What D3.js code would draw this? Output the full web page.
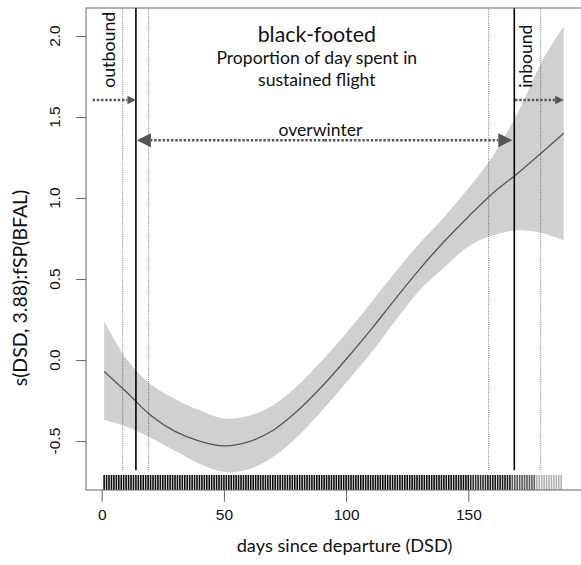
<!DOCTYPE html>
<html>
<head>
<meta charset="utf-8">
<script src="https://cdn.jsdelivr.net/npm/d3@7"></script>
<style>
  body { margin: 0; background: #fff; }
  svg { display: block; }
</style>
</head>
<body>
<svg id="chart" width="581" height="565"></svg>
<script>
// Smooth term s(DSD) for black-footed albatross, with its confidence band
const dsd   = [1, 10, 20, 30, 40, 50, 60, 70, 80, 90, 100, 110, 120, 130, 140, 150, 160, 170, 180, 189];
const fit   = [-0.07, -0.195, -0.34, -0.44, -0.50, -0.53, -0.505, -0.435, -0.315, -0.165, 0.005, 0.185, 0.375, 0.56, 0.73, 0.885, 1.03, 1.15, 1.28, 1.40];
const lower = [-0.37, -0.41, -0.48, -0.56, -0.64, -0.69, -0.675, -0.60, -0.475, -0.315, -0.14, 0.04, 0.24, 0.43, 0.57, 0.70, 0.77, 0.80, 0.785, 0.74];
const upper = [0.24, 0.01, -0.15, -0.24, -0.31, -0.36, -0.345, -0.28, -0.16, -0.005, 0.165, 0.35, 0.54, 0.72, 0.88, 1.06, 1.26, 1.52, 1.84, 2.06];

// Observation coverage for the rug: blocks of days and birds tracked per day
const rugBlockFirst = [1, 151, 158, 168, 178];
const rugBlockLast  = [150, 157, 167, 177, 188];
const rugBlockBirds = [9, 5, 7, 3, 1];

// Migration phase boundaries (mean and spread, days since departure)
const outboundEnd  = { lo: 8.6, mid: 14.0, hi: 19.2 };
const inboundStart = { lo: 158.3, mid: 168.8, hi: 179.6 };

const xTicks = [0, 50, 100, 150];
const yTicks = [-0.5, 0.0, 0.5, 1.0, 1.5, 2.0];

const svg = d3.select("#chart");
const plotL = 86, plotR = 582, plotT = 8, plotB = 490;

const x = d3.scaleLinear().domain([-6.42, 196.5]).range([plotL, plotR]);
const y = d3.scaleLinear().domain([-0.802, 2.173]).range([plotB, plotT]);

const rows = dsd.map((d, i) => ({ d, f: fit[i], lo: lower[i], hi: upper[i] }));
const smooth = d3.curveCatmullRom.alpha(0.5);

// Confidence band
svg.append("path")
  .datum(rows)
  .attr("fill", "#d0d0d0")
  .attr("d", d3.area().curve(smooth)
    .x(r => x(r.d)).y0(r => y(r.lo)).y1(r => y(r.hi)));

// Fitted smooth
svg.append("path")
  .datum(rows)
  .attr("fill", "none")
  .attr("stroke", "#555")
  .attr("stroke-width", 1.3)
  .attr("d", d3.line().curve(smooth).x(r => x(r.d)).y(r => y(r.f)));

// Phase boundary lines
const vBottom = -0.68;
[outboundEnd, inboundStart].forEach(p => {
  [p.lo, p.hi].forEach(v => {
    svg.append("line")
      .attr("x1", x(v)).attr("x2", x(v))
      .attr("y1", y(vBottom)).attr("y2", plotT)
      .attr("stroke", "#555").attr("stroke-width", 0.8)
      .attr("stroke-dasharray", "1,1.2");
  });
  svg.append("line")
    .attr("x1", x(p.mid)).attr("x2", x(p.mid))
    .attr("y1", y(vBottom)).attr("y2", plotT)
    .attr("stroke", "#000").attr("stroke-width", 1.6);
});

// Rug of observation days
const rug = [];
rugBlockFirst.forEach((first, i) => {
  for (let day = first; day <= rugBlockLast[i]; day++) rug.push({ day, n: rugBlockBirds[i] });
});
svg.append("g")
  .selectAll("line").data(rug).join("line")
  .attr("x1", r => x(r.day)).attr("x2", r => x(r.day))
  .attr("y1", plotB - 15).attr("y2", plotB)
  .attr("stroke", "#000").attr("stroke-width", 1.6)
  .attr("stroke-opacity", r => 1 - Math.pow(0.7, r.n));

// Dotted arrows marking the migration phases
const arrowColor = "#555";
function arrow(x0, x1, yv, headLen, headHalf) {
  const dir = Math.sign(x1 - x0);
  const px0 = x(x0), px1 = x(x1), py = y(yv);
  svg.append("line")
    .attr("x1", px0).attr("x2", px1 - dir * headLen)
    .attr("y1", py).attr("y2", py)
    .attr("stroke", arrowColor).attr("stroke-width", 2.6)
    .attr("stroke-dasharray", "2.4,1.8");
  svg.append("path")
    .attr("d", `M${px1},${py}L${px1 - dir * headLen},${py - headHalf}L${px1 - dir * headLen},${py + headHalf}Z`)
    .attr("fill", arrowColor);
}
function doubleArrow(x0, x1, yv, headLen, headHalf) {
  const mid = (x0 + x1) / 2;
  arrow(mid, x0, yv, headLen, headHalf);
  arrow(mid, x1, yv, headLen, headHalf);
}
arrow(-3.7, outboundEnd.mid, 1.605, 8.5, 4.2);
arrow(inboundStart.mid + 0.3, 189, 1.605, 8.5, 4.2);
doubleArrow(outboundEnd.mid + 0.4, inboundStart.mid - 0.8, 1.357, 14, 7);

// Annotations
const font = "Lato, 'Open Sans', sans-serif";
function vText(xv, yv, str, size) {
  svg.append("text")
    .attr("transform", `translate(${x(xv)},${y(yv)}) rotate(-90)`)
    .attr("font-family", font).attr("font-size", size).attr("fill", "#111")
    .text(str);
}
vText(5.5, 1.68, "outbound", 17.8);
vText(176.2, 1.68, "inbound", 17.6);

const cx = x(88);
svg.append("text").attr("x", cx).attr("y", 41.7).attr("text-anchor", "middle")
  .attr("font-family", font).attr("font-size", 21.4).attr("fill", "#111").text("black-footed");
svg.append("text").attr("x", cx).attr("y", 63.5).attr("text-anchor", "middle")
  .attr("font-family", font).attr("font-size", 17.6).attr("fill", "#111").text("Proportion of day spent in");
svg.append("text").attr("x", cx).attr("y", 85.5).attr("text-anchor", "middle")
  .attr("font-family", font).attr("font-size", 17.6).attr("fill", "#111").text("sustained flight");
svg.append("text").attr("x", x(89.5)).attr("y", 135.5).attr("text-anchor", "middle")
  .attr("font-family", font).attr("font-size", 17.6).attr("fill", "#111").text("overwinter");

// Axes
const axisColor = "#666";
svg.append("rect")
  .attr("x", plotL).attr("y", plotT).attr("width", plotR - plotL).attr("height", plotB - plotT)
  .attr("fill", "none").attr("stroke", axisColor).attr("stroke-width", 1);

const tickFont = "'Liberation Sans', Arial, sans-serif";
const xAxis = svg.append("g").attr("transform", `translate(0,${plotB})`)
  .call(d3.axisBottom(x).tickValues(xTicks).tickSize(12).tickPadding(7).tickFormat(d3.format("d")));
xAxis.select(".domain").remove();
xAxis.selectAll("line").attr("stroke", axisColor);
xAxis.selectAll("text").attr("font-family", tickFont).attr("font-size", 15.5).attr("fill", "#111");

const yAxis = svg.append("g").attr("transform", `translate(${plotL},0)`)
  .call(d3.axisLeft(y).tickValues(yTicks).tickSize(10).tickFormat(d3.format(".1f")));
yAxis.select(".domain").remove();
yAxis.selectAll("line").attr("stroke", axisColor);
yAxis.selectAll("text").remove();
yTicks.forEach(v => {
  svg.append("text")
    .attr("transform", `translate(55,${y(v)}) rotate(-90)`)
    .attr("text-anchor", "middle").attr("dy", "0.35em")
    .attr("font-family", tickFont).attr("font-size", 15.5).attr("fill", "#111")
    .text(d3.format(".1f")(v).replace("−", "-"));
});

svg.append("text").attr("x", 344.5).attr("y", 552).attr("text-anchor", "middle")
  .attr("font-family", font).attr("font-size", 18.2).attr("fill", "#111")
  .text("days since departure (DSD)");
svg.append("text")
  .attr("transform", `translate(20,288) rotate(-90)`)
  .attr("text-anchor", "middle").attr("dy", "0.35em")
  .attr("font-family", font).attr("font-size", 19.5).attr("fill", "#111")
  .text("s(DSD, 3.88):fSP(BFAL)");
</script>
</body>
</html>
